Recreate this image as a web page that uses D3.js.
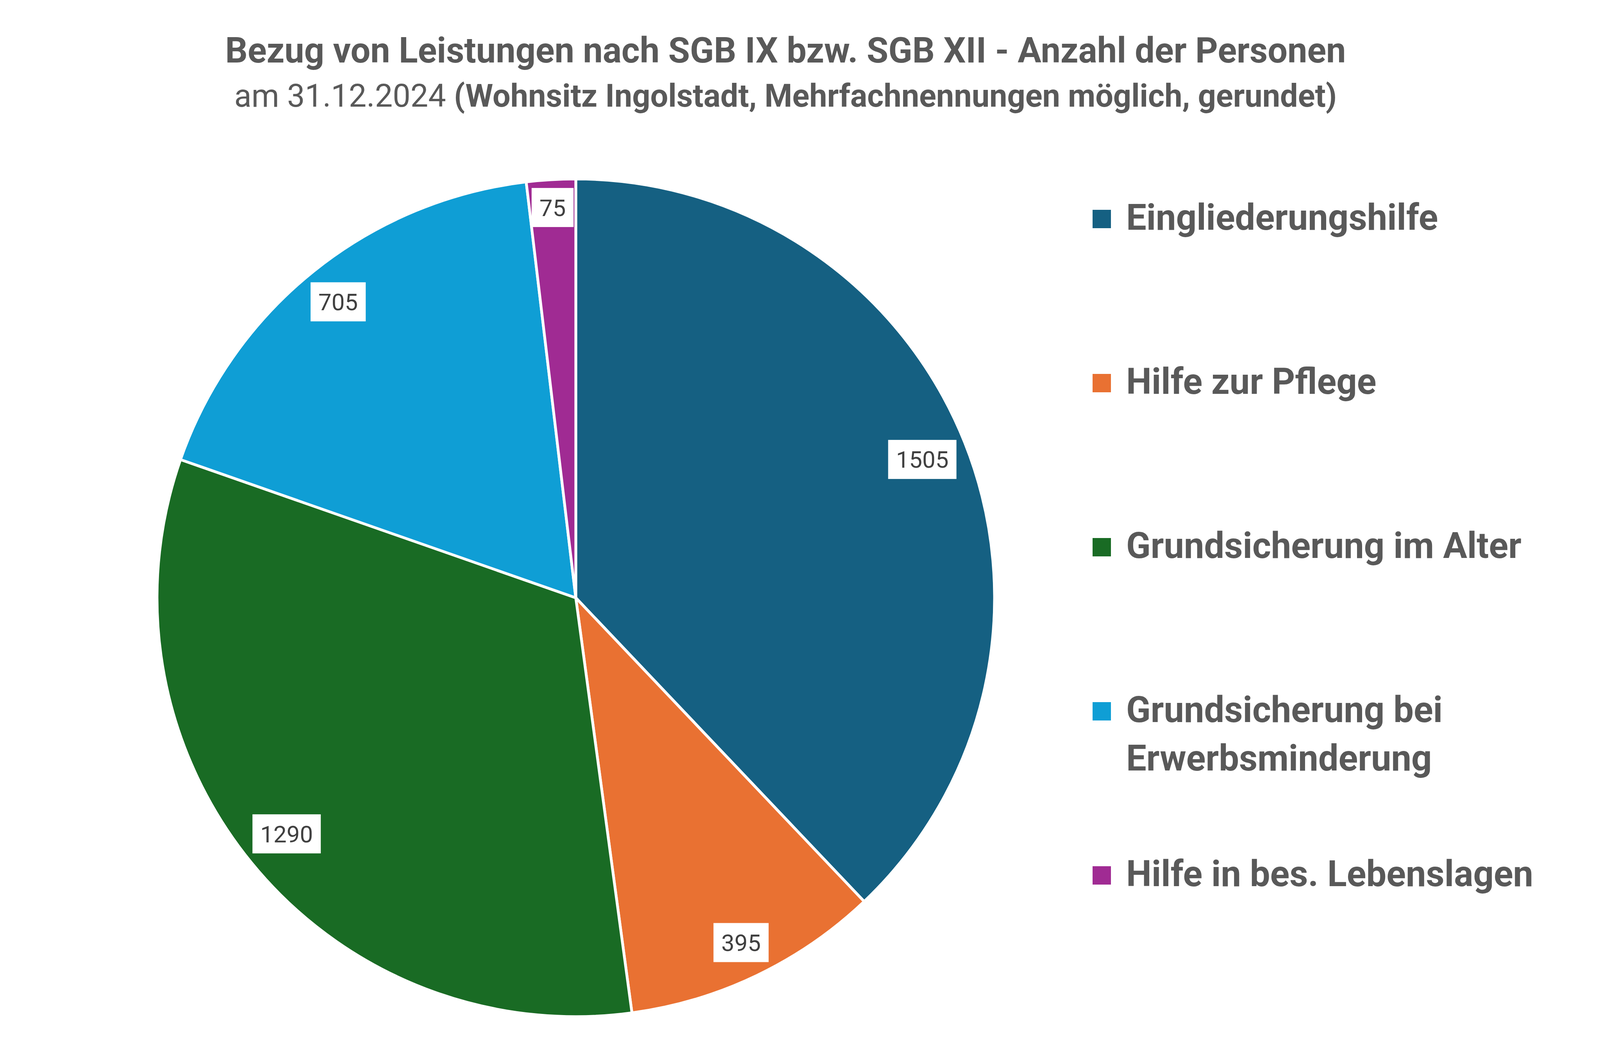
<!DOCTYPE html>
<html>
  <head>
    <meta charset="utf-8">
    <title>Bezug von Leistungen nach SGB IX bzw. SGB XII</title>
    <script src="https://d3js.org/d3.v7.min.js"></script>
    <style>
      body { margin: 0; background: #fff; }
      svg { display: block; font-family: Roboto, "Liberation Sans", sans-serif; }
    </style>
  </head>
<body>
  <svg id="visual" width="4134" height="2672"></svg>
</body>
<script type="text/javascript">
    var categories = ["Eingliederungshilfe", "Hilfe zur Pflege", "Grundsicherung im Alter",
        "Grundsicherung bei Erwerbsminderung", "Hilfe in bes. Lebenslagen"];
    var values = [1505, 395, 1290, 705, 75];
    var legendLines = [["Eingliederungshilfe"], ["Hilfe zur Pflege"], ["Grundsicherung im Alter"],
        ["Grundsicherung bei", "Erwerbsminderung"], ["Hilfe in bes. Lebenslagen"]];
    var colors = ["#156082", "#E97132", "#196B24", "#0F9ED5", "#A02B93"];

    var svg = d3.select("#visual")
        ,width = +svg.attr("width")
        ,height = +svg.attr("height")
        ,cx = 1474, cy = 1530, radius = 1072;

    var data = categories.map(function(c, i) { return {name: c, value: values[i], lines: legendLines[i]}; });

    var color = d3.scaleOrdinal().domain(categories).range(colors);

    // title
    var title = svg.append("g").attr("fill", "#595959").attr("text-anchor", "middle");
    title.append("text")
        .attr("x", 2011).attr("y", 160)
        .attr("font-size", 90).attr("font-weight", 700)
        .text("Bezug von Leistungen nach SGB IX bzw. SGB XII - Anzahl der Personen");
    var sub = title.append("text")
        .attr("x", 2011).attr("y", 273)
        .attr("font-size", 81);
    sub.append("tspan").attr("font-weight", 400).text("am 31.12.2024 ");
    sub.append("tspan").attr("font-weight", 700).text("(Wohnsitz Ingolstadt, Mehrfachnennungen möglich, gerundet)");

    // pie
    var pie = d3.pie().sort(null).value(function(d) { return d.value; });
    var arc = d3.arc().innerRadius(0).outerRadius(radius);
    var arcs = pie(data);

    var g = svg.append("g").attr("transform", "translate(" + cx + "," + cy + ")");

    g.selectAll("path.slice")
        .data(arcs)
        .enter().append("path")
        .attr("class", "slice")
        .attr("d", arc)
        .attr("fill", function(d) { return color(d.data.name); })
        .attr("stroke", "#fff")
        .attr("stroke-width", 7)
        .attr("stroke-linejoin", "round");

    // data labels: white box, pushed outward until the far corner nearly touches the rim
    var labels = g.selectAll("g.label")
        .data(arcs)
        .enter().append("g")
        .attr("class", "label");

    labels.each(function(d) {
        var lg = d3.select(this);
        var rect = lg.append("rect").attr("fill", "#fff");
        var txt = lg.append("text")
            .attr("text-anchor", "middle")
            .attr("dy", "0.36em")
            .attr("font-size", 60)
            .attr("fill", "#404040")
            .text(d.data.value);
        var w = txt.node().getComputedTextLength() + 40, h = 100;
        rect.attr("x", -w / 2).attr("y", -h / 2).attr("width", w).attr("height", h);

        var a = (d.startAngle + d.endAngle) / 2;
        var ux = Math.sin(a), uy = -Math.cos(a);
        var lim = radius - 17;
        var lo = 0, hi = radius;
        for (var k = 0; k < 40; k++) {
            var t = (lo + hi) / 2;
            var px = t * ux, py = t * uy;
            var far = Math.sqrt(Math.pow(Math.abs(px) + w / 2, 2) + Math.pow(Math.abs(py) + h / 2, 2));
            if (far > lim) hi = t; else lo = t;
        }
        lg.attr("transform", "translate(" + (lo * ux) + "," + (lo * uy) + ")");
    });

    // legend
    var ly = d3.scalePoint().domain(categories).range([588, 2268]);
    var legend = svg.append("g").attr("fill", "#595959");

    var items = legend.selectAll("g.item")
        .data(data)
        .enter().append("g")
        .attr("class", "item")
        .attr("transform", function(d) { return "translate(2797," + ly(d.name) + ")"; });

    items.append("rect")
        .attr("x", 0).attr("y", -51)
        .attr("width", 47).attr("height", 47)
        .attr("fill", function(d) { return color(d.name); });

    items.append("text")
        .attr("x", 86)
        .attr("font-size", 92)
        .attr("font-weight", 700)
        .selectAll("tspan")
        .data(function(d) { return d.lines; })
        .enter().append("tspan")
        .attr("x", 86)
        .attr("y", function(d, i) { return i * 124; })
        .text(function(d) { return d; });
</script>
</html>
